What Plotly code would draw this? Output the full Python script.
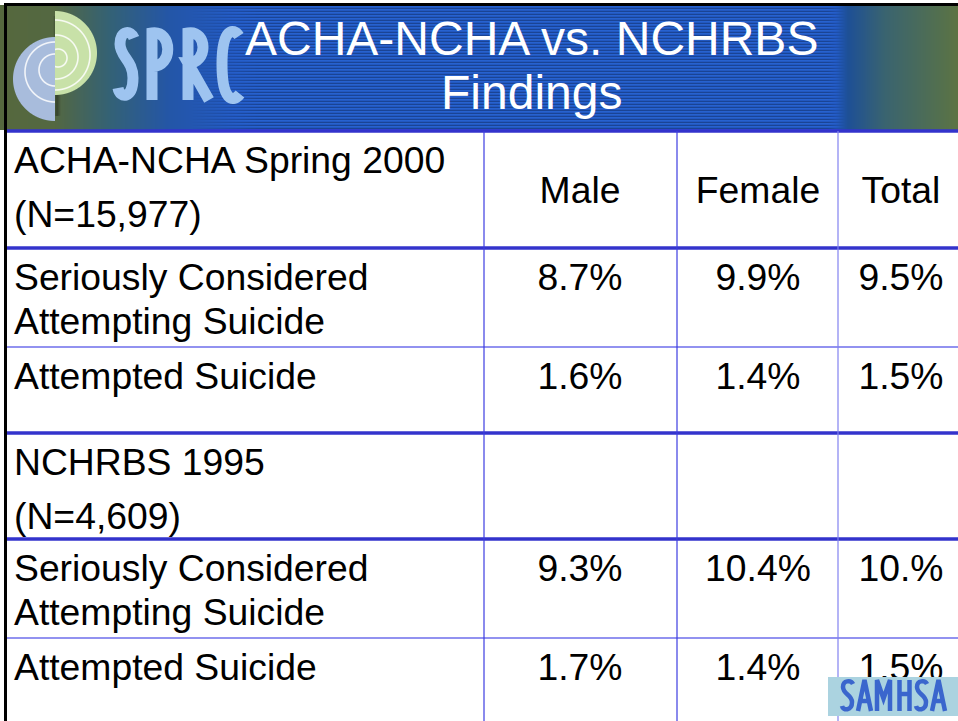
import base64
import struct
import zlib

import numpy as np
import plotly.graph_objects as go

# ---- data -----------------------------------------------------------------
title_lines = ["ACHA-NCHA vs. NCHRBS", "Findings"]
columns = ["Male", "Female", "Total"]
survey_names = ["ACHA-NCHA Spring 2000", "NCHRBS 1995"]
survey_sizes = ["(N=15,977)", "(N=4,609)"]
measure_lines = [["Seriously Considered", "Attempting Suicide"],
                 ["Attempted Suicide"]]
acha_male = ["8.7%", "1.6%"]
acha_female = ["9.9%", "1.4%"]
acha_total = ["9.5%", "1.5%"]
nchrbs_male = ["9.3%", "1.7%"]
nchrbs_female = ["10.4%", "1.4%"]
nchrbs_total = ["10.%", "1.5%"]

# ---- layout geometry (pixels) --------------------------------------------
W, H = 958, 721
row_edges = [131, 248, 347, 433, 539, 638, 721]
col_edges = [484, 677, 838]
col_centers = [580, 758, 901]
label_x = 14
first_line = 28.5
header_spacing = 54
body_spacing = 44
FONT = "Liberation Sans, Arial, sans-serif"
FS = 37.3
cap_fix = 0.108 * FS   # scatter text 'middle' sits slightly above cap centre


def png_uri(arr):
    h, w, _ = arr.shape
    raw = b"".join(b"\x00" + arr[i].tobytes() for i in range(h))

    def chunk(tag, data):
        return (struct.pack(">I", len(data)) + tag + data +
                struct.pack(">I", zlib.crc32(tag + data) & 0xffffffff))
    png = (b"\x89PNG\r\n\x1a\n" +
           chunk(b"IHDR", struct.pack(">IIBBBBB", w, h, 8, 2, 0, 0, 0)) +
           chunk(b"IDAT", zlib.compress(raw, 9)) + chunk(b"IEND", b""))
    return "data:image/png;base64," + base64.b64encode(png).decode()


def build_banner(y_top=5, y_bot=130):
    hh = y_bot - y_top
    xs = np.arange(W) + 0.5
    ys = np.arange(hh) + 0.5 + y_top
    stops_x = [0, 55, 110, 170, 235, 836, 848, 885, 958]
    stops_rgb = np.array([(86, 104, 62), (84, 104, 66), (52, 98, 118),
                          (36, 86, 168), (34, 88, 192), (34, 88, 192),
                          (30, 80, 150), (58, 100, 112), (92, 116, 68)], float)
    grad = np.stack([np.interp(xs, stops_x, stops_rgb[:, i]) for i in range(3)], -1)
    img = np.repeat(grad[None, :, :], hh, axis=0)

    # horizontal stripes across the blue part
    fade = np.interp(xs, [190, 260, 828, 845], [0, 1, 1, 0])
    stripe = (np.arange(hh) % 3 == 0).astype(float)
    img *= (1 - 0.22 * stripe[:, None] * fade[None, :])[:, :, None]
    img += (0.10 * 255 * (np.arange(hh) % 3 == 1)[:, None] * fade[None, :])[:, :, None] * \
        np.array([0.2, 0.4, 0.6])

    # SPRC disc logo
    X, Y = np.meshgrid(xs, ys)

    def cover(d, r):
        return np.clip(r - d + 0.5, 0, 1)
    # soft shadow along the seam
    shade = np.clip(1 - np.abs(X - 57) / 4, 0, 1) * cover(np.hypot(X - 55, Y - 66), 50) * 0.35
    img *= (1 - shade)[:, :, None]
    d_blue = np.hypot(X - 55, Y - 79)
    d_green = np.hypot(X - 55, Y - 53)
    a_blue = cover(d_blue, 42) * (X < 55)
    a_green = cover(d_green, 42) * (X >= 55)
    for a, col in ((a_blue, (168, 188, 220)), (a_green, (200, 225, 168))):
        img = img * (1 - a[:, :, None]) + np.array(col) * a[:, :, None]
    rings = np.zeros_like(X)
    for cx, cy, r, side in ((55, 70, 16, X < 55), (55, 72, 30, X < 55),
                            (58, 58, 9, X >= 55), (56, 57, 22, X >= 55),
                            (55, 55, 35, X >= 55)):
        rings = np.maximum(rings, np.clip(1.3 - np.abs(np.hypot(X - cx, Y - cy) - r), 0, 1) * side)
    rings *= np.maximum(a_blue, a_green)
    img = img * (1 - rings[:, :, None] * 0.85) + 255 * rings[:, :, None] * 0.85
    return np.clip(img, 0, 255).astype(np.uint8)


def letter_path(ch, x, y, w=13, h=31):
    # simple stroked glyphs for the SAMHSA badge
    if ch == "S":
        return (f"M {x+w-1},{y+4} C {x+w-3},{y} {x+2},{y} {x+2},{y+7} "
                f"C {x+2},{y+14} {x+w-2},{y+15} {x+w-2},{y+22} "
                f"C {x+w-2},{y+h} {x+2},{y+h} {x+1},{y+h-5}")
    if ch == "A":
        return (f"M {x},{y+h} L {x+w/2},{y} L {x+w},{y+h} "
                f"M {x+3},{y+h*0.68} L {x+w-3},{y+h*0.68}")
    if ch == "M":
        return (f"M {x+1},{y+h} L {x+1},{y} L {x+w/2+1},{y+h*0.6} "
                f"L {x+w+1},{y} L {x+w+1},{y+h}")
    if ch == "H":
        return (f"M {x+1.5},{y} L {x+1.5},{y+h} M {x+w-1.5},{y} L {x+w-1.5},{y+h} "
                f"M {x+1.5},{y+h*0.45} L {x+w-1.5},{y+h*0.45}")
    return ""


fig = go.Figure()

# ---- table text -------------------------------------------------------------
lab_y, lab_t = [], []
for s in range(2):
    top = row_edges[3 * s]
    lab_t += [survey_names[s], survey_sizes[s]]
    lab_y += [top + first_line, top + first_line + header_spacing]
    for m, lines in enumerate(measure_lines):
        top = row_edges[3 * s + 1 + m]
        for i, line in enumerate(lines):
            lab_t.append(line)
            lab_y.append(top + first_line + i * body_spacing)
lab_x = [label_x] * len(lab_t)
fig.add_trace(go.Scatter(x=lab_x, y=[y + cap_fix for y in lab_y], text=lab_t,
                         mode="text", textposition="middle right",
                         textfont=dict(family=FONT, size=FS, color="black"),
                         hoverinfo="skip"))

fig.add_trace(go.Scatter(x=col_centers,
                         y=[(row_edges[0] + row_edges[1]) / 2 + cap_fix] * 3,
                         text=columns, mode="text", textposition="middle center",
                         textfont=dict(family=FONT, size=FS, color="black"),
                         hoverinfo="skip"))

series = [[acha_male, acha_female, acha_total],
          [nchrbs_male, nchrbs_female, nchrbs_total]]
for s, cols in enumerate(series):
    for c, vals in enumerate(cols):
        ys = [row_edges[3 * s + 1 + m] + first_line + cap_fix for m in range(len(vals))]
        fig.add_trace(go.Scatter(x=[col_centers[c]] * len(vals), y=ys, text=vals,
                                 mode="text", textposition="middle center",
                                 textfont=dict(family=FONT, size=FS, color="black"),
                                 hoverinfo="skip"))

# ---- shapes -----------------------------------------------------------------
shapes = []
thick = "rgb(51,51,204)"
thin = "rgb(110,110,235)"
for i, y in enumerate(row_edges[:-1]):
    if i % 3 == 0 or i == 1 or i == 4:
        shapes.append(dict(type="line", x0=6, x1=W, y0=y, y1=y,
                           line=dict(color=thick, width=3.5), layer="above"))
    else:
        shapes.append(dict(type="line", x0=6, x1=W, y0=y, y1=y,
                           line=dict(color=thin, width=1.5), layer="above"))
for j, x in enumerate(col_edges):
    shapes.append(dict(type="line", x0=x, x1=x, y0=row_edges[0], y1=H,
                       line=dict(color="rgb(130,130,240)" if j == 2 else "rgb(60,60,225)",
                                 width=1.2), layer="above"))

# black slide frame
shapes.append(dict(type="line", x0=4, x1=W, y0=4.5, y1=4.5,
                   line=dict(color="black", width=3), layer="above"))
shapes.append(dict(type="line", x0=5.5, x1=5.5, y0=3, y1=H,
                   line=dict(color="black", width=3), layer="above"))

# SPRC letters
sprc_paths = [
    "M 134,38 C 131,30 120,30 120,44 C 120,57 133,60 133,78 C 133,99 120,99 118,88",
    "M 152,100 L 152,33 C 173,30 173,68 152,66",
    "M 188,100 L 188,33 C 208,30 208,64 188,63 L 209,100",
    "M 239,36 C 233,27 222,29 222,64 C 222,101 233,103 240,94",
]
for p in sprc_paths:
    shapes.append(dict(type="path", path=p, fillcolor="rgba(0,0,0,0)",
                       line=dict(color="rgb(158,196,240)", width=11), layer="above"))

# SAMHSA badge
shapes.append(dict(type="rect", x0=828, x1=958, y0=677, y1=716,
                   fillcolor="rgb(171,211,224)", line_width=0, layer="above"))
for ch, lx in zip("SAMHSA", [841, 858, 876, 898, 915, 932]):
    shapes.append(dict(type="path", path=letter_path(ch, lx, 680),
                       fillcolor="rgba(0,0,0,0)",
                       line=dict(color="rgb(58,102,205)", width=4.5), layer="above"))

annotations = []
for i, t in enumerate(title_lines):
    annotations.append(dict(x=531, y=[38, 92][i], text=t, showarrow=False,
                            xanchor="center", yanchor="middle",
                            font=dict(family=FONT, size=48, color="white")))

fig.update_layout(
    width=W, height=H, margin=dict(l=0, r=0, t=0, b=0),
    paper_bgcolor="white", plot_bgcolor="white", showlegend=False,
    hovermode=False, shapes=shapes, annotations=annotations,
    images=[dict(source=png_uri(build_banner()), xref="x", yref="y",
                 x=0, y=5, sizex=W, sizey=125, xanchor="left", yanchor="top",
                 sizing="stretch", layer="below")],
)
fig.update_xaxes(range=[0, W], visible=False, fixedrange=True)
fig.update_yaxes(range=[H, 0], visible=False, fixedrange=True)

fig.write_html("out.html", config={"displayModeBar": False},
               post_script="document.body.style.margin='0';"
                           "document.body.style.overflow='hidden';")
